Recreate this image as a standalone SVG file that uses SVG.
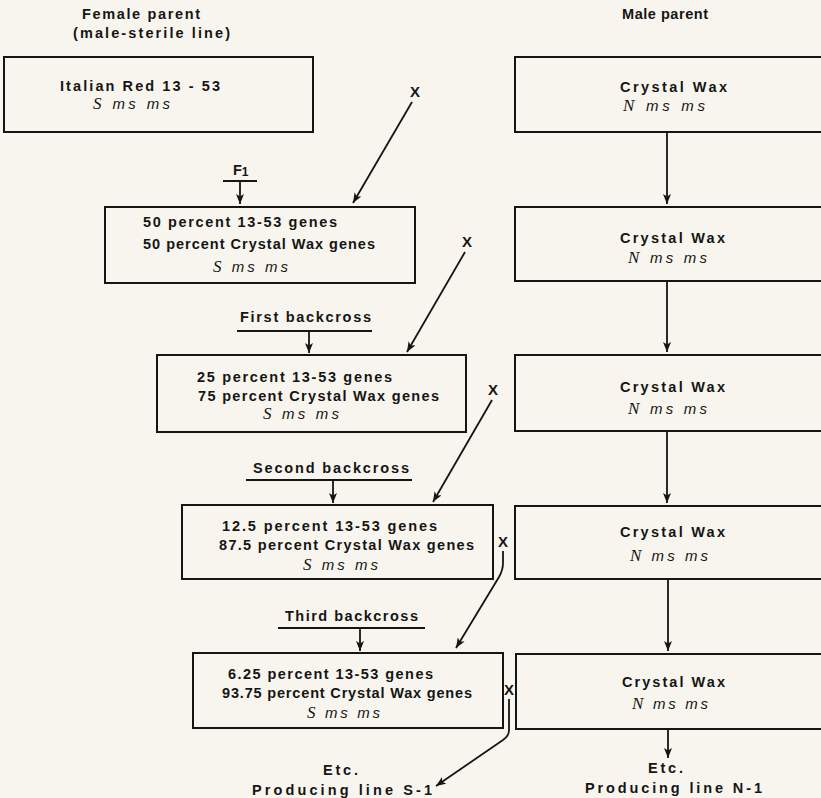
<svg xmlns="http://www.w3.org/2000/svg" width="821" height="798" viewBox="0 0 821 798">
<style>
.bg{fill:#f8f5ee}
.box{fill:none;stroke:#151515;stroke-width:2}
.ln{fill:none;stroke:#151515;stroke-width:1.8}
.t{font-family:"Liberation Sans",Arial,sans-serif;font-weight:bold;font-size:14.5px;fill:#151515}
.g{font-family:"Liberation Sans",Arial,sans-serif;font-style:italic;font-size:15px;fill:#151515}
.s{font-family:"Liberation Serif","Times New Roman",serif;font-style:italic;font-size:17px}
.x{font-family:"Liberation Sans",Arial,sans-serif;font-weight:bold;font-size:15px;fill:#151515;text-anchor:middle}
</style>
<defs>
<marker id="ah" viewBox="0 0 10 8" refX="10" refY="4" markerWidth="10" markerHeight="8" markerUnits="userSpaceOnUse" orient="auto">
<path d="M0,0 L10,4 L0,8 L2.5,4 z" fill="#151515"/>
</marker>
</defs>
<rect class="bg" x="0" y="0" width="821" height="798"/>

<g id="headers">
<text class="t" x="82" y="19" textLength="118">Female parent</text>
<text class="t" x="73" y="38" textLength="157">(male-sterile line)</text>
<text class="t" x="622" y="19" textLength="86">Male parent</text>
</g>

<g id="f0">
<rect class="box" x="4" y="57" width="309" height="75"/>
<text class="t" x="60" y="91" textLength="160">Italian Red 13 - 53</text>
<text class="g" x="93" y="109" textLength="77"><tspan class="s">S</tspan> ms ms</text>
</g>

<g id="f1">
<text class="t" x="233" y="175">F<tspan font-size="12" dy="1">1</tspan></text>
<rect class="box" x="105" y="207" width="310" height="76"/>
<text class="t" x="143" y="227" textLength="194">50 percent 13-53 genes</text>
<text class="t" x="143" y="249" textLength="232">50 percent Crystal Wax genes</text>
<text class="g" x="213" y="272" textLength="75"><tspan class="s">S</tspan> ms ms</text>
</g>

<g id="bc1">
<text class="t" x="240" y="322" textLength="131">First backcross</text>
<rect class="box" x="157" y="355" width="309" height="77"/>
<text class="t" x="197" y="382" textLength="195">25 percent 13-53 genes</text>
<text class="t" x="198" y="401" textLength="241">75 percent Crystal Wax genes</text>
<text class="g" x="263" y="419" textLength="76"><tspan class="s">S</tspan> ms ms</text>
</g>

<g id="bc2">
<text class="t" x="253" y="473" textLength="156">Second backcross</text>
<rect class="box" x="182" y="505" width="311" height="74"/>
<text class="t" x="222" y="531" textLength="215">12.5 percent 13-53 genes</text>
<text class="t" x="219" y="550" textLength="255">87.5 percent Crystal Wax genes</text>
<text class="g" x="303" y="570" textLength="75"><tspan class="s">S</tspan> ms ms</text>
</g>

<g id="bc3">
<text class="t" x="285" y="621" textLength="133">Third backcross</text>
<rect class="box" x="193" y="653" width="310" height="75"/>
<text class="t" x="228" y="679" textLength="205">6.25 percent 13-53 genes</text>
<text class="t" x="222" y="698" textLength="250">93.75 percent Crystal Wax genes</text>
<text class="g" x="307" y="718" textLength="73"><tspan class="s">S</tspan> ms ms</text>
</g>

<g id="s-end">
<text class="t" x="323" y="775" textLength="35">Etc.</text>
<text class="t" x="252" y="795" textLength="180">Producing line S-1</text>
</g>

<g id="m1">
<rect class="box" x="515" y="57" width="330" height="75"/>
<text class="t" x="620" y="92" textLength="107">Crystal Wax</text>
<text class="g" x="623" y="111" textLength="82"><tspan class="s">N</tspan> ms ms</text>
</g>
<g id="m2">
<rect class="box" x="515" y="207" width="330" height="74"/>
<text class="t" x="620" y="243" textLength="105">Crystal Wax</text>
<text class="g" x="628" y="263" textLength="79"><tspan class="s">N</tspan> ms ms</text>
</g>
<g id="m3">
<rect class="box" x="515" y="355" width="330" height="76"/>
<text class="t" x="620" y="392" textLength="105">Crystal Wax</text>
<text class="g" x="628" y="414" textLength="79"><tspan class="s">N</tspan> ms ms</text>
</g>
<g id="m4">
<rect class="box" x="515" y="506" width="330" height="73"/>
<text class="t" x="620" y="537" textLength="105">Crystal Wax</text>
<text class="g" x="630" y="561" textLength="78"><tspan class="s">N</tspan> ms ms</text>
</g>
<g id="m5">
<rect class="box" x="516" y="654" width="330" height="75"/>
<text class="t" x="622" y="687" textLength="103">Crystal Wax</text>
<text class="g" x="632" y="709" textLength="76"><tspan class="s">N</tspan> ms ms</text>
</g>
<g id="n-end">
<text class="t" x="648" y="773" textLength="35">Etc.</text>
<text class="t" x="585" y="793" textLength="177">Producing line N-1</text>
</g>

<g id="cross-marks">
<text class="x" x="415" y="97">X</text>
<text class="x" x="467" y="247">X</text>
<text class="x" x="493" y="395">X</text>
<text class="x" x="503" y="547">X</text>
<text class="x" x="509" y="695">X</text>
</g>

<g id="connectors">
<line class="ln" x1="223" y1="181" x2="257" y2="181"/>
<line class="ln" x1="240" y1="181" x2="240" y2="204" marker-end="url(#ah)"/>
<line class="ln" x1="237" y1="331" x2="372" y2="331"/>
<line class="ln" x1="309" y1="331" x2="309" y2="353" marker-end="url(#ah)"/>
<line class="ln" x1="246" y1="480" x2="412" y2="480"/>
<line class="ln" x1="333" y1="480" x2="333" y2="503" marker-end="url(#ah)"/>
<line class="ln" x1="278" y1="628" x2="425" y2="628"/>
<line class="ln" x1="360" y1="628" x2="360" y2="651" marker-end="url(#ah)"/>

<line class="ln" x1="412" y1="102" x2="353" y2="203" marker-end="url(#ah)"/>
<line class="ln" x1="465" y1="252" x2="407" y2="352" marker-end="url(#ah)"/>
<line class="ln" x1="492" y1="400" x2="433" y2="502" marker-end="url(#ah)"/>
<path class="ln" d="M503,551 L503,563 Q503,570 499,577 L456,648" marker-end="url(#ah)"/>
<path class="ln" d="M509,699 L509,730 Q509,736 503,740 L436,786" marker-end="url(#ah)"/>

<line class="ln" x1="667" y1="132" x2="667" y2="204" marker-end="url(#ah)"/>
<line class="ln" x1="667" y1="281" x2="667" y2="352" marker-end="url(#ah)"/>
<line class="ln" x1="667" y1="431" x2="667" y2="503" marker-end="url(#ah)"/>
<line class="ln" x1="668" y1="579" x2="668" y2="651" marker-end="url(#ah)"/>
<line class="ln" x1="668" y1="729" x2="668" y2="758" marker-end="url(#ah)"/>
</g>
</svg>
